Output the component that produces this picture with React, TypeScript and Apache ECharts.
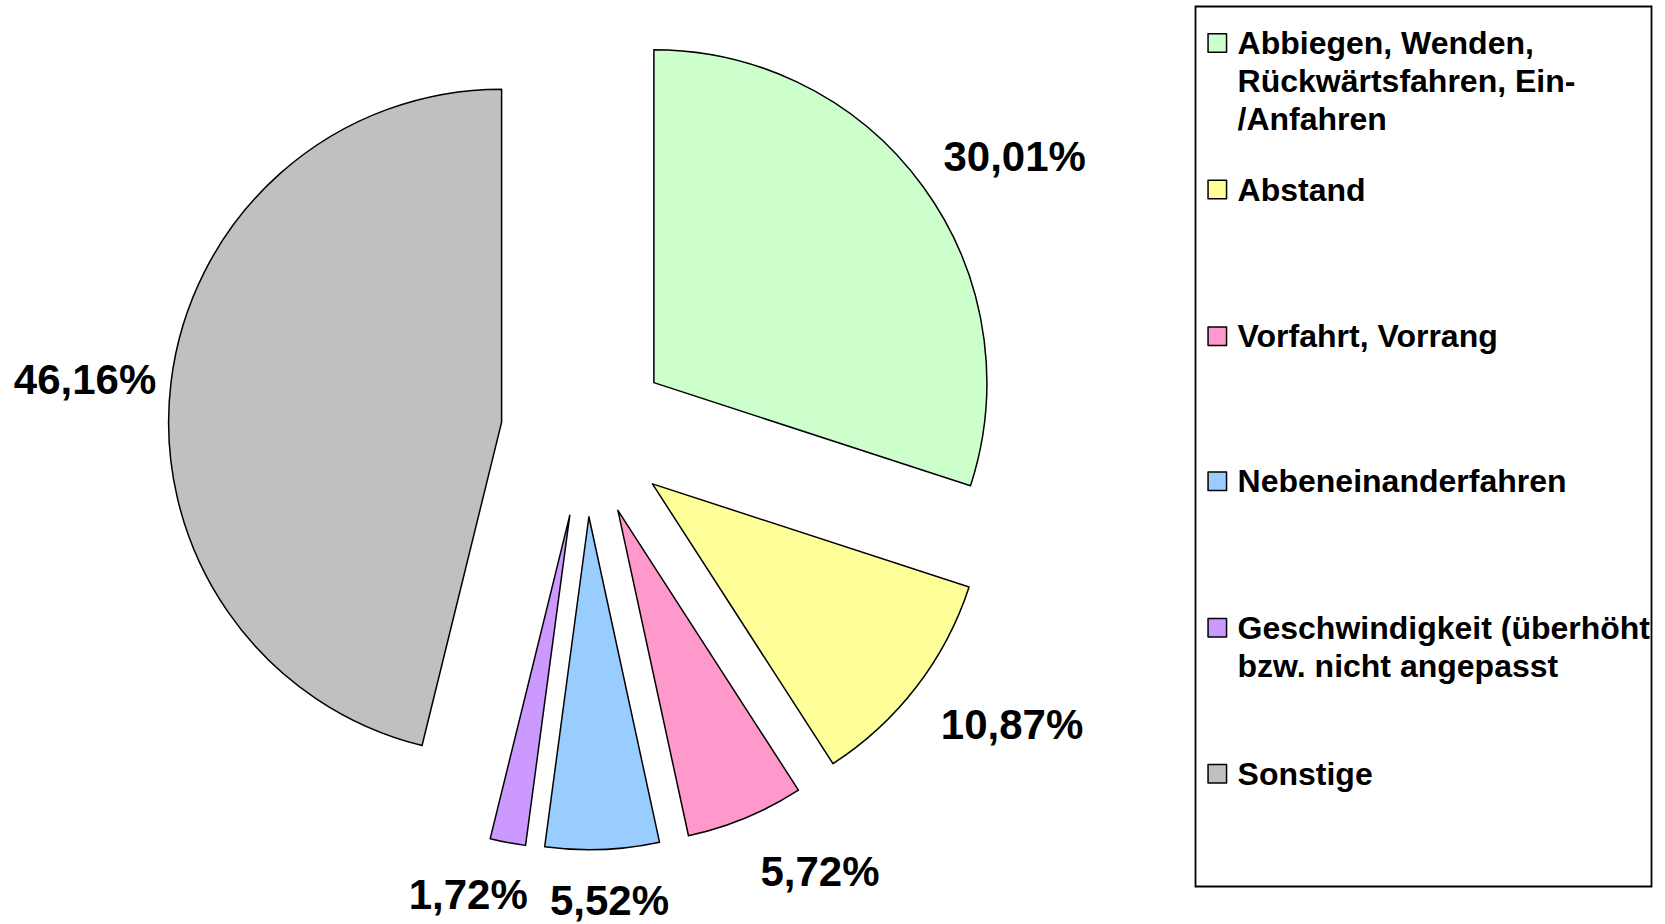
import React, { useEffect, useRef } from "react";
import * as echarts from "echarts";

const categories = [
  "Abbiegen, Wenden, Rückwärtsfahren, Ein-/Anfahren",
  "Abstand",
  "Vorfahrt, Vorrang",
  "Nebeneinanderfahren",
  "Geschwindigkeit (überhöht bzw. nicht angepasst",
  "Sonstige",
];
const legendLabels = [
  "Abbiegen, Wenden,\nRückwärtsfahren, Ein-\n/Anfahren",
  "Abstand",
  "Vorfahrt, Vorrang",
  "Nebeneinanderfahren",
  "Geschwindigkeit (überhöht\nbzw. nicht angepasst",
  "Sonstige",
];
const values = [30.01, 10.87, 5.72, 5.52, 1.72, 46.16];
const colors = ["#CCFFCC", "#FFFF99", "#FF99CC", "#99CCFF", "#CC99FF", "#C0C0C0"];

// label placement tuning (label line length & distance, line itself hidden)
const labelLen = [51.7, 61.9, 57.6, 51.4, 52.7, 19.6];
const labelDist = [-21.7, -24.5, -7.2, -54.4, -29.8, -4.7];
// legend icon centre rows
const legendRows = [43.5, 190, 336.7, 481.8, 628.3, 774.2];

const FONT = "'Liberation Sans', Arial, Helvetica, sans-serif";
const LINE_H = 38;

export default function App() {
  const ref = useRef<HTMLDivElement>(null);
  useEffect(() => {
    if (!ref.current) return;
    const chart = echarts.init(ref.current, undefined, { renderer: "svg" });
    const data = categories.map((name, i) => ({
      name,
      value: values[i],
      selected: true,
      itemStyle: { color: colors[i] },
      label: { distanceToLabelLine: labelDist[i] },
      labelLine: { show: false, length: labelLen[i], length2: 0 },
    }));
    const legends = categories.map((name, i) => {
      const lines = legendLabels[i].split("\n").length;
      return {
        orient: "vertical",
        left: 1207.3,
        top: legendRows[i] - 19.5 - (lines - 1) * LINE_H,
        padding: 0,
        data: [name],
        icon: "rect",
        itemWidth: 18.5,
        itemHeight: 18.5,
        selectedMode: false,
        itemStyle: { borderColor: "#000", borderWidth: 1.5, color: colors[i] },
        formatter: () => legendLabels[i],
        textStyle: {
          fontFamily: FONT,
          fontWeight: "bold",
          fontSize: 32,
          color: "#000",
          lineHeight: LINE_H,
          padding: [(lines - 1) * LINE_H, 0, 0, 6],
          rich: { plain: {} },
        },
      };
    });
    chart.setOption({
      animation: false,
      backgroundColor: "#fff",
      legend: legends,
      graphic: [
        {
          type: "rect",
          shape: { x: 1195.5, y: 6.5, width: 456, height: 880 },
          style: { fill: "none", stroke: "#000", lineWidth: 1.8 },
          silent: true,
        },
      ],
      series: [
        {
          type: "pie",
          center: [585.5, 432.3],
          radius: 333,
          startAngle: 90,
          clockwise: true,
          selectedMode: "multiple",
          selectedOffset: 84.5,
          avoidLabelOverlap: false,
          emphasis: { disabled: true },
          itemStyle: { borderColor: "#000", borderWidth: 1.5 },
          select: { itemStyle: { borderColor: "#000", borderWidth: 1.5 } },
          label: {
            show: true,
            position: "outside",
            fontFamily: FONT,
            fontWeight: "bold",
            fontSize: 42,
            color: "#000",
            formatter: (p: any) => p.value.toFixed(2).replace(".", ",") + "%",
          },
          labelLine: { show: false },
          data,
        },
      ],
    });
    return () => chart.dispose();
  }, []);
  return (
    <div
      ref={ref}
      style={{ position: "absolute", left: 0, top: 0, width: 1665, height: 924 }}
    />
  );
}
